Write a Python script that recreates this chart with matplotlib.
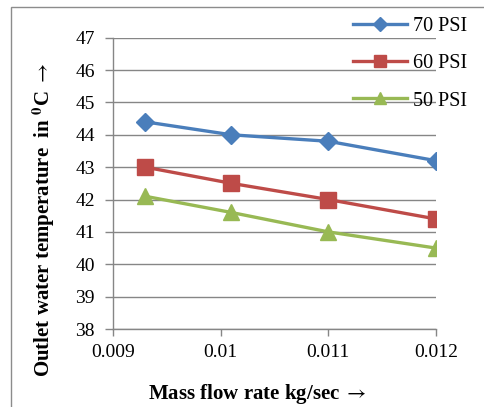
import matplotlib
matplotlib.use("Agg")
import matplotlib.pyplot as plt
from matplotlib.patches import Rectangle

plt.rcParams['font.family'] = ['Liberation Serif', 'DejaVu Serif']
plt.rcParams['mathtext.fontset'] = 'stix'

mass_flow = [0.0093, 0.0101, 0.0110, 0.0120]
temp_70 = [44.4, 44.0, 43.8, 43.2]
temp_60 = [43.0, 42.5, 42.0, 41.4]
temp_50 = [42.1, 41.6, 41.0, 40.5]
series_labels = ["70 PSI", "60 PSI", "50 PSI"]
x_ticks = [0.009, 0.010, 0.011, 0.012]
x_tick_labels = ["0.009", "0.01", "0.011", "0.012"]
y_ticks = list(range(38, 48))

W, H = 484, 407
fig = plt.figure(figsize=(W / 100, H / 100), dpi=100)
ax = fig.add_axes([113 / W, 1 - 329 / H, (436 - 113) / W, (329 - 37.7) / H])

# outer chart border (cropped at right/bottom)
fig.patches.append(Rectangle((11 / W, -0.1), 1.2, (H - 7) / H + 0.1, transform=fig.transFigure,
                             fill=False, edgecolor='#8c8c8c', linewidth=1.0))

colors = ['#4A7EBB', '#BE4B48', '#98B954']
markers = ['D', 's', '^']
msizes = [9, 11, 11]
for vals, lab, c, m, ms in zip([temp_70, temp_60, temp_50], series_labels, colors, markers, msizes):
    ax.plot(mass_flow, vals, color=c, marker=m, markersize=ms, linewidth=2.4, label=lab, zorder=3)

ax.set_xlim(0.009, 0.012)
ax.set_ylim(38, 47)
ax.set_xticks(x_ticks)
ax.set_xticklabels(x_tick_labels)
ax.set_yticks(y_ticks)
ax.grid(axis='y', color='#868686', linewidth=1.0)
ax.set_axisbelow(True)
for s in ['top', 'right']:
    ax.spines[s].set_visible(False)
for s in ['left', 'bottom']:
    ax.spines[s].set_color('#868686')
    ax.spines[s].set_linewidth(1.0)
ax.tick_params(axis='both', colors='#868686', labelcolor='black', labelsize=14, width=1.0, direction='out')
ax.tick_params(axis='x', pad=6, length=5)
ax.tick_params(axis='y', pad=7, length=6)

fig.text(257 / W, 1 - 394 / H, r"Mass flow rate kg/sec $\rightarrow$", ha='center', va='center',
         fontsize=15, fontweight='bold')
fig.text(44 / W, 1 - 220 / H, r"Outlet water temperature  in $^{\mathbf{0}}$C $\rightarrow$", ha='center', va='center',
         rotation=90, fontsize=15, fontweight='bold')

leg = ax.legend(loc='upper left', bbox_to_anchor=(353 / W, 1 - 17 / H), bbox_transform=fig.transFigure,
                frameon=False, fontsize=14.5, handlelength=2.7, handletextpad=0.3,
                labelspacing=0.9, borderaxespad=0, borderpad=0, markerscale=0.75)

fig.savefig("out.png", dpi=100)
